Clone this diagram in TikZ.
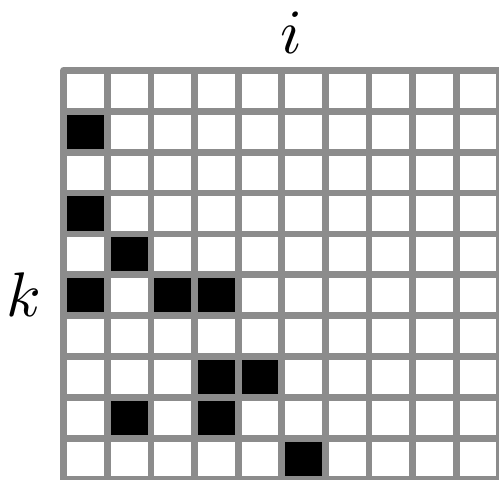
\documentclass[tikz,border=0pt]{standalone}
\definecolor{gridgray}{RGB}{140,140,140}
\begin{document}
\begin{tikzpicture}[x=1pt,y=-1pt,
  gridline/.style={draw=gridgray,line width=6.8pt},
  cellfill/.style={fill=black},
  lbl/.style={inner sep=0pt,anchor=base,scale=6.3}]
\useasboundingbox (0,0) rectangle (499,480);
\clip (0,0) rectangle (499,480);
\def\xo{63.7}\def\yo{70.3}\def\dx{43.6}\def\dy{40.9}
% black cells (row, col)
\foreach \r/\c in {1/0,3/0,4/1,5/0,5/2,5/3,7/3,7/4,8/1,8/3,9/5}{
  \fill[cellfill] ({\xo+\c*\dx},{\yo+\r*\dy}) rectangle ({\xo+(\c+1)*\dx},{\yo+(\r+1)*\dy});
}
% grid
\foreach \j in {1,...,9}{
  \draw[gridline] ({\xo+\j*\dx},\yo) -- ({\xo+\j*\dx},{\yo+10*\dy});
  \draw[gridline] (\xo,{\yo+\j*\dy}) -- ({\xo+10*\dx},{\yo+\j*\dy});
}
\draw[gridline,line join=round] (\xo,\yo) rectangle ({\xo+10*\dx},{\yo+10*\dy});
\node[lbl] (ilabel) at (291,53) {$i$};
\node[lbl] (klabel) at (24,316.7) {$k$};
\end{tikzpicture}
\end{document}
